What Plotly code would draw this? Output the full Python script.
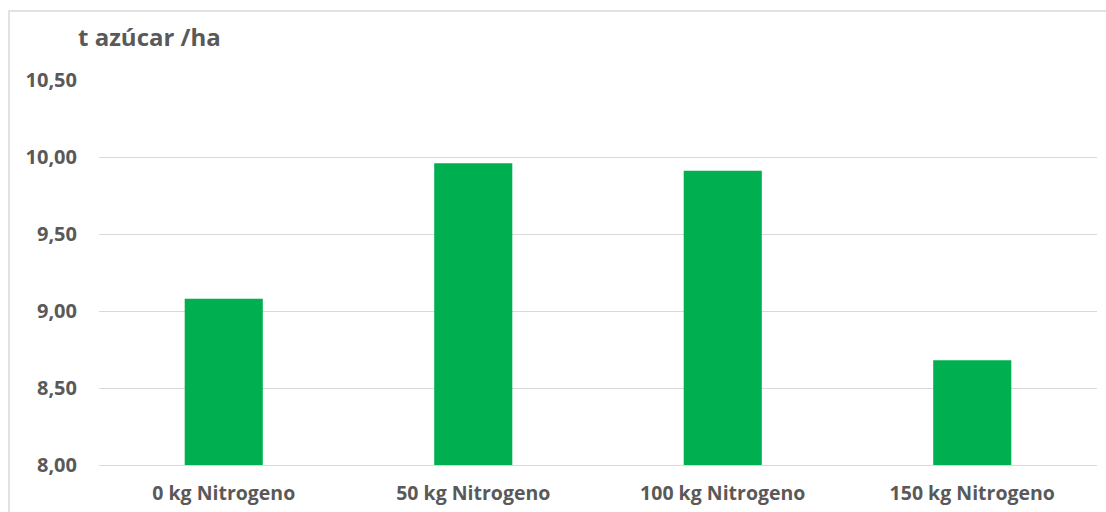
import plotly.graph_objects as go

# Sugar yield per hectare by nitrogen dose
categories = ["0 kg Nitrogeno", "50 kg Nitrogeno", "100 kg Nitrogeno", "150 kg Nitrogeno"]
yield_t_ha = [9.08, 9.96, 9.91, 8.68]
y_ticks = [8.0, 8.5, 9.0, 9.5, 10.0, 10.5]

text_color = "#595959"
grid_color = "#d9d9d9"
font_family = "'Open Sans', sans-serif"

fig = go.Figure(
    go.Bar(
        x=categories,
        y=yield_t_ha,
        marker=dict(color="#00b050", line=dict(width=0)),
        width=0.313,
    )
)

fig.update_layout(
    width=1106,
    height=512,
    margin=dict(l=99, r=9, t=80, b=47, autoexpand=False),
    paper_bgcolor="white",
    plot_bgcolor="white",
    separators=",.",
    showlegend=False,
    font=dict(family=font_family, color=text_color),
    title=dict(
        text="<b>t azúcar /ha</b>",
        xref="container",
        yref="container",
        x=78 / 1106,
        xanchor="left",
        y=1 - 38 / 512,
        yanchor="middle",
        font=dict(size=24, color=text_color, family=font_family),
    ),
    shapes=[
        dict(
            type="rect",
            xref="paper",
            yref="paper",
            x0=-0.0902,
            x1=1.05,
            y0=-0.4,
            y1=1.179,
            line=dict(color=grid_color, width=1.5),
            layer="below",
        )
    ],
)

fig.update_xaxes(
    automargin=False,
    showgrid=False,
    showline=True,
    linecolor=grid_color,
    linewidth=1,
    ticks="",
    tickfont=dict(size=19.5, color=text_color, family=font_family, weight="bold"),
    ticklabelstandoff=11,
)

fig.update_yaxes(
    automargin=False,
    range=[8, 10.5],
    tickvals=y_ticks,
    tickformat=".2f",
    showgrid=True,
    gridcolor=grid_color,
    gridwidth=1,
    zeroline=False,
    showline=False,
    ticks="",
    tickfont=dict(size=20, color=text_color, family=font_family, weight="bold"),
    ticklabelstandoff=21,
)

fig.write_html("out.html")
